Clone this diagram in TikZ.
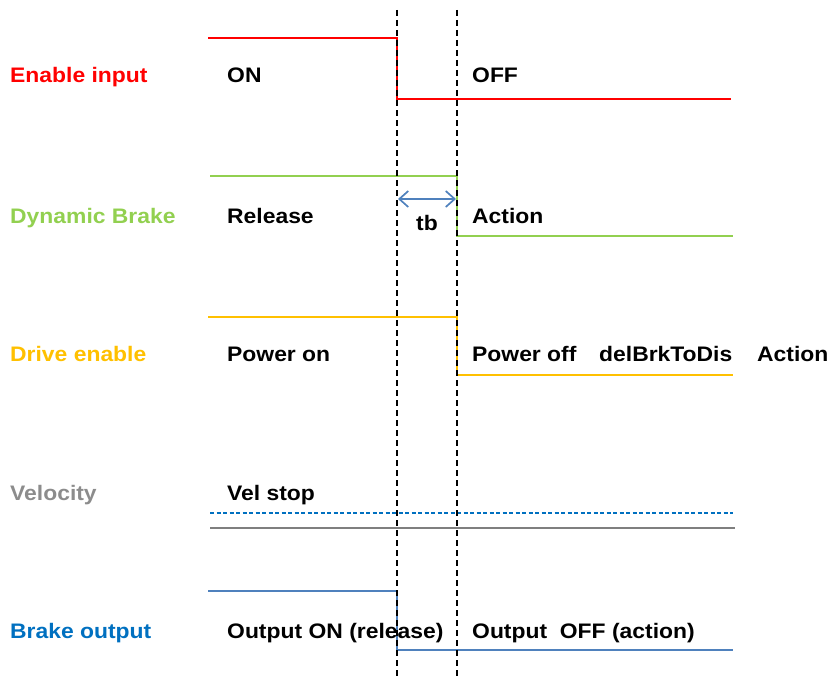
\documentclass[tikz,border=0pt]{standalone}
\usepackage{fontspec}
\setmainfont{Liberation Sans}[FakeStretch=1.09]
\usetikzlibrary{arrows.meta}
\definecolor{cred}{HTML}{FF0000}
\definecolor{cgreen}{HTML}{92D050}
\definecolor{corange}{HTML}{FFC000}
\definecolor{cgray}{HTML}{8C8C8C}
\definecolor{cgrayline}{HTML}{7F7F7F}
\definecolor{cblue}{HTML}{0070C0}
\definecolor{csteel}{HTML}{4F81BD}
\begin{document}
\begin{tikzpicture}[x=1pt,y=-1pt,
  txt/.style={anchor=base west,inner sep=0pt,font=\fontsize{21}{24}\selectfont\bfseries},
  sig/.style={line width=1.7pt},
  guide/.style={line width=1.5pt,black,dash pattern=on 6pt off 4pt}]
\useasboundingbox (0,0) rectangle (833,677);
% labels
\node[txt,text=cred] (lEn) at (10,83) {Enable input};
\node[txt,text=cgreen] (lDb) at (10,223) {Dynamic Brake};
\node[txt,text=corange] (lDe) at (10,361) {Drive enable};
\node[txt,text=cgray] (lVel) at (10,500) {Velocity};
\node[txt,text=cblue] (lBo) at (10,638) {Brake output};
% state texts
\node[txt] (tOn) at (227,83) {ON};
\node[txt] (tOff) at (472,83) {OFF};
\node[txt] (tRel) at (227,223) {Release};
\node[txt] (tAct) at (472,223) {Action};
\node[txt] (tPon) at (227,361) {Power on};
\node[txt] (tPoff) at (472,361) {Power off};
\node[txt] (tDel) at (599,361) {delBrkToDis};
\node[txt] (tAct2) at (757,361) {Action};
\node[txt] (tVs) at (227,500) {Vel stop};
\node[txt] (tOon) at (227,638) {Output ON (release)};
\node[txt] (tOoff) at (472,638) {Output\ \ OFF (action)};
\node[txt] (tb) at (416,230) {tb};
% signals
\draw[sig,cred] (208,38) -- (397,38) -- (397,99) -- (731,99);
\draw[sig,cgreen] (210,176) -- (457,176) -- (457,236) -- (733,236);
\draw[sig,corange] (208,317) -- (457,317) -- (457,375) -- (733,375);
\draw[sig,cblue,dash pattern=on 4pt off 2.5pt] (210,513) -- (733,513);
\draw[sig,cgrayline] (210,528) -- (735,528);
\draw[sig,csteel] (208,591) -- (397,591) -- (397,650) -- (733,650);
% guides
\coordinate (g1t) at (397,10); \coordinate (g1b) at (397,677);
\coordinate (g2t) at (457,10); \coordinate (g2b) at (457,677);
\draw[guide] (g1t) -- (g1b);
\draw[guide] (g2t) -- (g2b);
% tb arrow
\coordinate (a1) at (398,199); \coordinate (a2) at (456,199);
\draw[csteel,line width=1.7pt,{Straight Barb[length=9pt,width=16pt]}-{Straight Barb[length=9pt,width=16pt]}] (a1) -- (a2);
\end{tikzpicture}
\end{document}
